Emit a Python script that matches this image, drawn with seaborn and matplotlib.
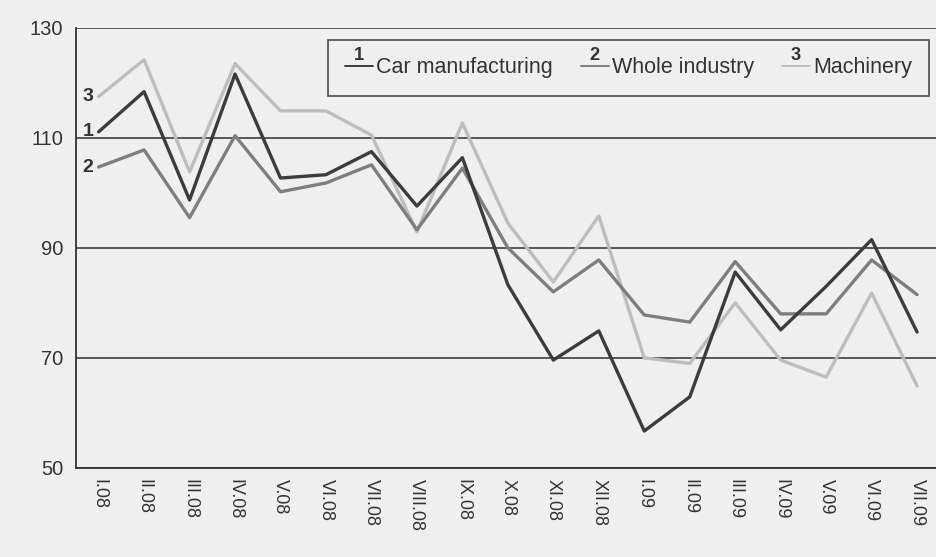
import matplotlib
matplotlib.use("Agg")
import matplotlib.pyplot as plt
import seaborn as sns
import pandas as pd
import numpy as np
from matplotlib.legend_handler import HandlerLine2D
from matplotlib.text import Text

months = ["I.08", "II.08", "III.08", "IV.08", "V.08", "VI.08", "VII.08", "VIII.08",
          "IX.08", "X.08", "XI.08", "XII.08", "I.09", "II.09", "III.09", "IV.09",
          "V.09", "VI.09", "VII.09"]
car = [111.1, 118.4, 98.7, 121.6, 102.7, 103.3, 107.5, 97.6, 106.4, 83.3, 69.6,
       74.9, 56.7, 62.9, 85.6, 75.1, 83.0, 91.5, 74.7]
whole = [104.7, 107.8, 95.5, 110.4, 100.2, 101.8, 105.1, 93.3, 104.5, 90.0, 82.0,
         87.8, 77.8, 76.5, 87.5, 78.0, 78.0, 87.8, 81.5]
machinery = [117.5, 124.2, 103.8, 123.5, 114.9, 114.9, 110.5, 92.9, 112.7, 94.5, 83.8,
             95.8, 70.0, 69.0, 80.0, 69.6, 66.5, 81.8, 64.9]
series_names = ["Car manufacturing", "Whole industry", "Machinery"]
series_nums = ["1", "2", "3"]
colors = ["#3c3c3c", "#7e7e7e", "#bdbdbd"]

df = pd.DataFrame({"x": np.arange(len(months)), "Car manufacturing": car,
                   "Whole industry": whole, "Machinery": machinery})
long = df.melt(id_vars="x", var_name="series", value_name="value")

sns.set_style("white")
plt.rcParams["font.family"] = ["Liberation Sans", "DejaVu Sans"]

bg = "#efefef"
fig = plt.figure(figsize=(9.37, 5.57), dpi=100, facecolor=bg)
ax = fig.add_axes([0.081, 0.16, 0.922, 0.79], facecolor=bg)

for i, name in enumerate(series_names):
    sns.lineplot(data=long[long.series == name], x="x", y="value", ax=ax,
                 color=colors[i], lw=2.4, label=name, zorder=3 - i * 0.1)

ax.set_ylim(50, 130)
ax.set_xlim(-0.5, len(months) - 0.5)
ax.set_yticks([50, 70, 90, 110, 130])
ax.yaxis.grid(True, color="#4a4a4a", lw=1.3)
ax.set_axisbelow(True)
ax.set_xticks(np.arange(len(months)))
ax.set_xticklabels(months, rotation=270, fontsize=13, color="#333333")
ax.set_xticks(np.arange(len(months) + 1) - 0.5, minor=True)
ax.tick_params(axis="x", which="major", length=0, pad=8)
ax.tick_params(axis="x", which="minor", length=5, width=1.3, color="#333333")
ax.tick_params(axis="y", length=5, width=1.3, color="#333333", labelsize=14.5,
               labelcolor="#333333", pad=4)
ax.set_xlabel("")
ax.set_ylabel("")
for s in ["top", "right"]:
    ax.spines[s].set_visible(False)
for s in ["left", "bottom"]:
    ax.spines[s].set_color("#333333")
    ax.spines[s].set_linewidth(1.3)

# numbers at line starts
for num, vals in zip(series_nums, [car, whole, machinery]):
    ax.text(-0.12, vals[0], num, ha="right", va="center", fontsize=14,
            fontweight="bold", color="#333333")


class NumHandler(HandlerLine2D):
    def __init__(self, num, **kw):
        super().__init__(**kw)
        self.num = num

    def create_artists(self, legend, orig_handle, xdescent, ydescent, width,
                       height, fontsize, trans):
        arts = super().create_artists(legend, orig_handle, xdescent, ydescent,
                                      width, height, fontsize, trans)
        for a in arts:
            a.set_linewidth(1.4)
        t = Text(width / 2 - xdescent, height / 2 - ydescent + 1, self.num,
                 ha="center", va="bottom", fontsize=fontsize * 0.85,
                 fontweight="bold", color="#333333", transform=trans)
        return list(arts) + [t]


handles, labels = ax.get_legend_handles_labels()
leg = ax.legend(handles, labels, ncol=3, loc="upper right",
                bbox_to_anchor=(0.993, 0.982), fontsize=15.5, frameon=True,
                fancybox=False, edgecolor="#333333", facecolor=bg,
                handlelength=1.3, handletextpad=0.15, columnspacing=1.3,
                borderpad=0.8, borderaxespad=0.2,
                handler_map={h: NumHandler(n) for h, n in zip(handles, series_nums)})
leg.get_frame().set_linewidth(1.3)
for t in leg.get_texts():
    t.set_color("#333333")

fig.savefig("out.png", dpi=100, facecolor=bg)
